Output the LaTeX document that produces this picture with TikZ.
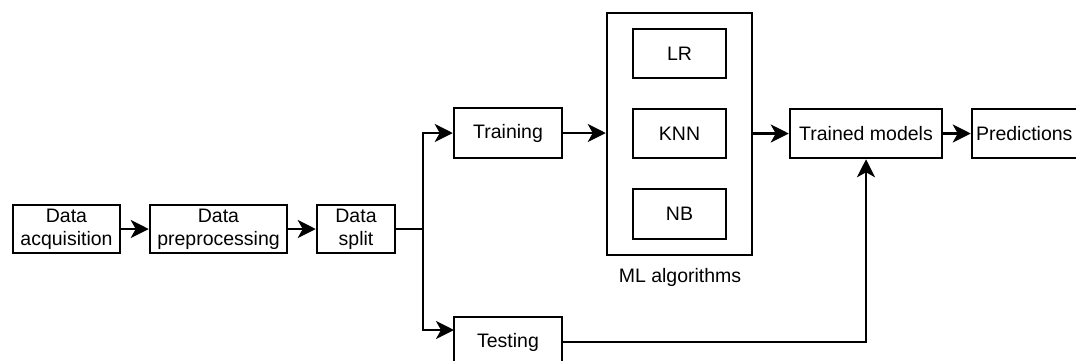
\documentclass[tikz,border=0pt]{standalone}
\usepackage{fontspec}
\setmainfont{Liberation Sans}
\usetikzlibrary{arrows.meta}
\begin{document}
\begin{tikzpicture}[x=1pt,y=-1pt,
  box/.style={draw, line width=2.5pt, inner sep=0pt, align=center, font=\fontsize{19.5}{23}\selectfont},
  conn/.style={line width=2.5pt},
  arr/.style={conn, -{Stealth[length=18pt,width=18pt,inset=5pt]}}]
\useasboundingbox (0,0) rectangle (1076,360);
\clip (0,0) rectangle (1076,360);
% main row
\node[box, minimum width=107pt, minimum height=48pt] (acq) at (66.5,229) {Data\\acquisition};
\node[box, minimum width=137pt, minimum height=48pt] (prep) at (218.5,229) {Data\\preprocessing};
\node[box, minimum width=78pt, minimum height=48pt] (split) at (356,229) {Data\\split};
\coordinate (junc) at (423,229);
% train/test
\node[box, minimum width=108pt, minimum height=50pt] (train) at (508,133) {Training};
\node[box, minimum width=108pt, minimum height=50pt] (test) at (508,342) {Testing};
\coordinate (testin) at (454,330);
% ML algorithms
\node[draw, line width=2.5pt, minimum width=145pt, minimum height=242pt, inner sep=0pt] (ml) at (679.5,134) {};
\node[box, minimum width=93pt, minimum height=49pt] (lr) at (679.5,53.5) {LR};
\node[box, minimum width=93pt, minimum height=49pt] (knn) at (679.5,133.5) {KNN};
\node[box, minimum width=93pt, minimum height=50pt] (nb) at (679.5,214) {NB};
\node[font=\fontsize{19.5}{23}\selectfont, inner sep=0pt] (mllab) at (680,277) {ML algorithms};
% outputs
\node[box, minimum width=152pt, minimum height=49pt] (trained) at (866,133.5) {Trained models};
\node[box, minimum width=110pt, minimum height=49pt, text width=106pt, align=left] (pred) at (1027,133.5) {\hspace*{2pt}Predictions};
% connectors
\draw[arr] (acq) -- (prep);
\draw[arr] (prep) -- (split);
\draw[conn] (split) -- (junc);
\draw[arr] (junc) |- (train.west);
\draw[arr] (junc) |- (testin);
\draw[arr] (train) -- (ml.west |- train);
\draw[arr] (ml.east |- trained) -- (trained);
\draw[arr] (trained) -- (pred.west);
\draw[arr] (test.east) -| (trained.south);
\end{tikzpicture}
\end{document}
